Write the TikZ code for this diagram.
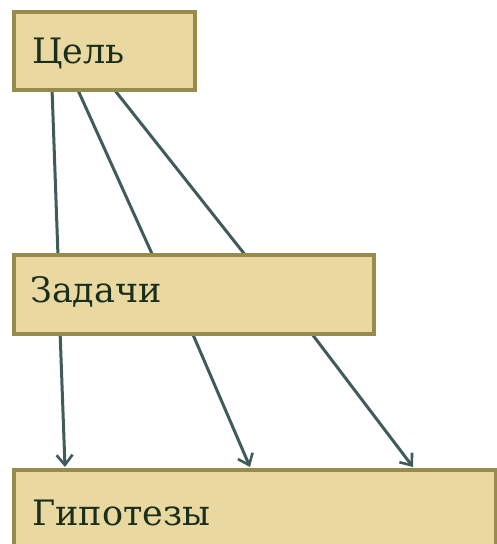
\documentclass[tikz,border=0pt]{standalone}
\usepackage{fontspec}
\setmainfont{DejaVu Serif}
\usetikzlibrary{arrows.meta}
\definecolor{boxfill}{HTML}{E9D9A1}
\definecolor{boxline}{HTML}{978C4E}
\definecolor{conn}{HTML}{3F5C5B}
\definecolor{txt}{HTML}{1A2E1C}
\tikzset{
  box/.style={draw=boxline, line width=3.6pt, fill=boxfill, rectangle, inner sep=0pt},
  lbl/.style={anchor=base west, inner sep=0pt, text=txt, font=\fontsize{35}{35}\selectfont},
  conline/.style={draw=conn, line width=3pt},
  conarrow/.style={conline, -{Straight Barb[length=10pt,width=16pt,line width=2.6pt]}}
}
\begin{document}
\begin{tikzpicture}[x=1pt,y=-1pt]
\useasboundingbox (0,0) rectangle (497,544);
% connectors (drawn first, boxes cover ends)
\coordinate (a1) at (52,88);  \coordinate (b1) at (58,256);
\coordinate (a2) at (77,88);  \coordinate (b2) at (153,256);
\coordinate (a3) at (113,88); \coordinate (b3) at (246,256);
\coordinate (c1) at (60,330); \coordinate (d1) at (65,467);
\coordinate (c2) at (191,330);\coordinate (d2) at (250,467);
\coordinate (c3) at (309,330);\coordinate (d3) at (413,467);
\draw[conline] (a1) -- (b1);
\draw[conline] (a2) -- (b2);
\draw[conline] (a3) -- (b3);
\draw[conarrow] (c1) -- (d1);
\draw[conarrow] (c2) -- (d2);
\draw[conarrow] (c3) -- (d3);
% boxes
\node[box, minimum width=181pt, minimum height=78pt, anchor=north west] (goal) at (12,10) {};
\node[box, minimum width=360pt, minimum height=79pt, anchor=north west] (tasks) at (12,253) {};
\node[box, minimum width=482pt, minimum height=95pt, anchor=north west] (hyp) at (12,468) {};
\node[lbl] (tgoal) at (32,63) {Цель};
\node[lbl] (ttasks) at (30,302) {Задачи};
\node[lbl] (thyp) at (32,525) {Гипотезы};
\end{tikzpicture}
\end{document}
